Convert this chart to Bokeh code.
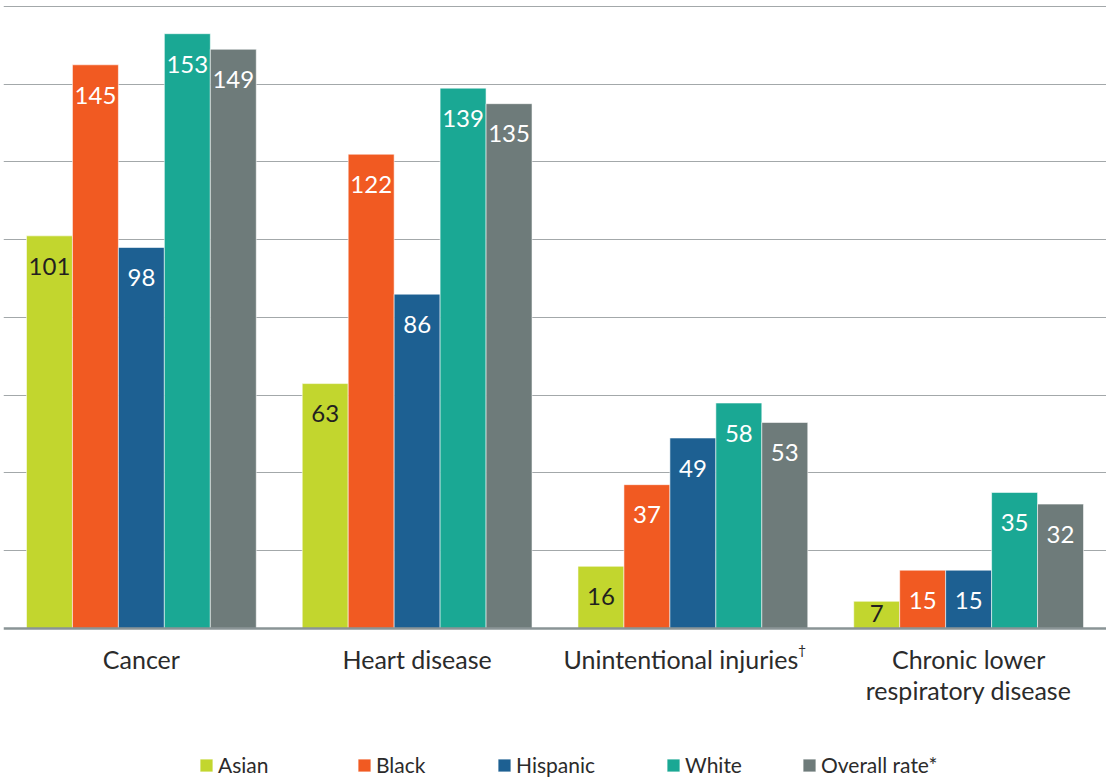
from bokeh.plotting import figure
from bokeh.models import ColumnDataSource, FactorRange, Range1d, FixedTicker, Span, Legend, LegendItem
from bokeh.transform import dodge
from bokeh.core.properties import value
from bokeh.embed import file_html
from bokeh.resources import INLINE

# ---- data ----
categories = ["Cancer", "Heart disease", "Unintentional injuries", "Chronic lower respiratory disease"]
category_labels = ["Cancer", "Heart disease", "Unintentional injuries", "Chronic lower\nrespiratory disease"]
series_names = ["Asian", "Black", "Hispanic", "White", "Overall rate*"]
asian = [101, 63, 16, 7]
black = [145, 122, 37, 15]
hispanic = [98, 86, 49, 15]
white = [153, 139, 58, 35]
overall = [149, 135, 53, 32]
grid_ticks = [20, 40, 60, 80, 100, 120, 140, 160]

series_values = [asian, black, hispanic, white, overall]
colors = ["#C2D62E", "#F15A22", "#1D6092", "#1AA894", "#6E7B7A"]
label_colors = ["#231F20", "white", "white", "white", "white"]
offsets = [-1/3, -1/6, 0, 1/6, 1/3]
legend_x = [195, 353, 493, 662, 798]   # screen px from frame left

FONT = "Lato"
W, H = 1106, 780

p = figure(x_range=FactorRange(*categories, range_padding=0, factor_padding=0),
           y_range=Range1d(-39.1, 161.54),
           width=W, height=H, output_backend="svg", toolbar_location=None,
           min_border_left=3, min_border_right=0, min_border_top=0, min_border_bottom=0)
p.outline_line_color = None
p.axis.visible = False
p.xgrid.grid_line_color = None
p.ygrid.ticker = FixedTicker(ticks=grid_ticks)
p.ygrid.grid_line_color = "#A3A8AA"
p.ygrid.grid_line_width = 1.2

renderers = []
for name, vals, col, lc, off in zip(series_names, series_values, colors, label_colors, offsets):
    ly = [max(v - 7.8, 3.8) for v in vals]
    src = ColumnDataSource(dict(cat=categories, v=vals, ly=ly, lbl=[str(v) for v in vals]))
    r = p.vbar(x=dodge("cat", off, range=p.x_range), top="v", bottom=0, width=1/6, source=src,
               fill_color=col, line_color="white", line_width=0.8, line_alpha=0.7)
    renderers.append((name, r))
    p.text(x=dodge("cat", off, range=p.x_range), y="ly", text="lbl", source=src,
           text_color=lc, text_font=value(FONT), text_font_size="24px",
           text_align="center", text_baseline="middle")

p.add_layout(Span(location=0, dimension="width", line_color="#8A9496", line_width=2.5))

# category labels
lab_src = ColumnDataSource(dict(cat=categories, t=category_labels, dx=[0, 0, -12, 0]))
p.text(x="cat", y=-4.1, text="t", x_offset="dx", source=lab_src, text_color="#2B2B2B",
       text_font=value(FONT), text_font_size="25px", text_align="center",
       text_baseline="top", text_line_height=1.03)
p.text(x=[categories[2]], y=[-3.3], text=["\u2020"], x_offset=[105],
       text_color="#2B2B2B", text_font=value(FONT), text_font_size="14px",
       text_align="left", text_baseline="top")

for (n, r), lx in zip(renderers, legend_x):
    lg = Legend(items=[LegendItem(label=n, renderers=[r])],
                orientation="horizontal", location=(lx, 3),
                glyph_width=16, glyph_height=16, label_height=16,
                label_standoff=4, padding=0, margin=0,
                border_line_alpha=0, background_fill_alpha=0,
                label_text_font=FONT, label_text_font_size="21px",
                label_text_color="#2B2B2B", label_text_baseline="middle")
    p.add_layout(lg)

open("out.html", "w").write(file_html(p, INLINE))
